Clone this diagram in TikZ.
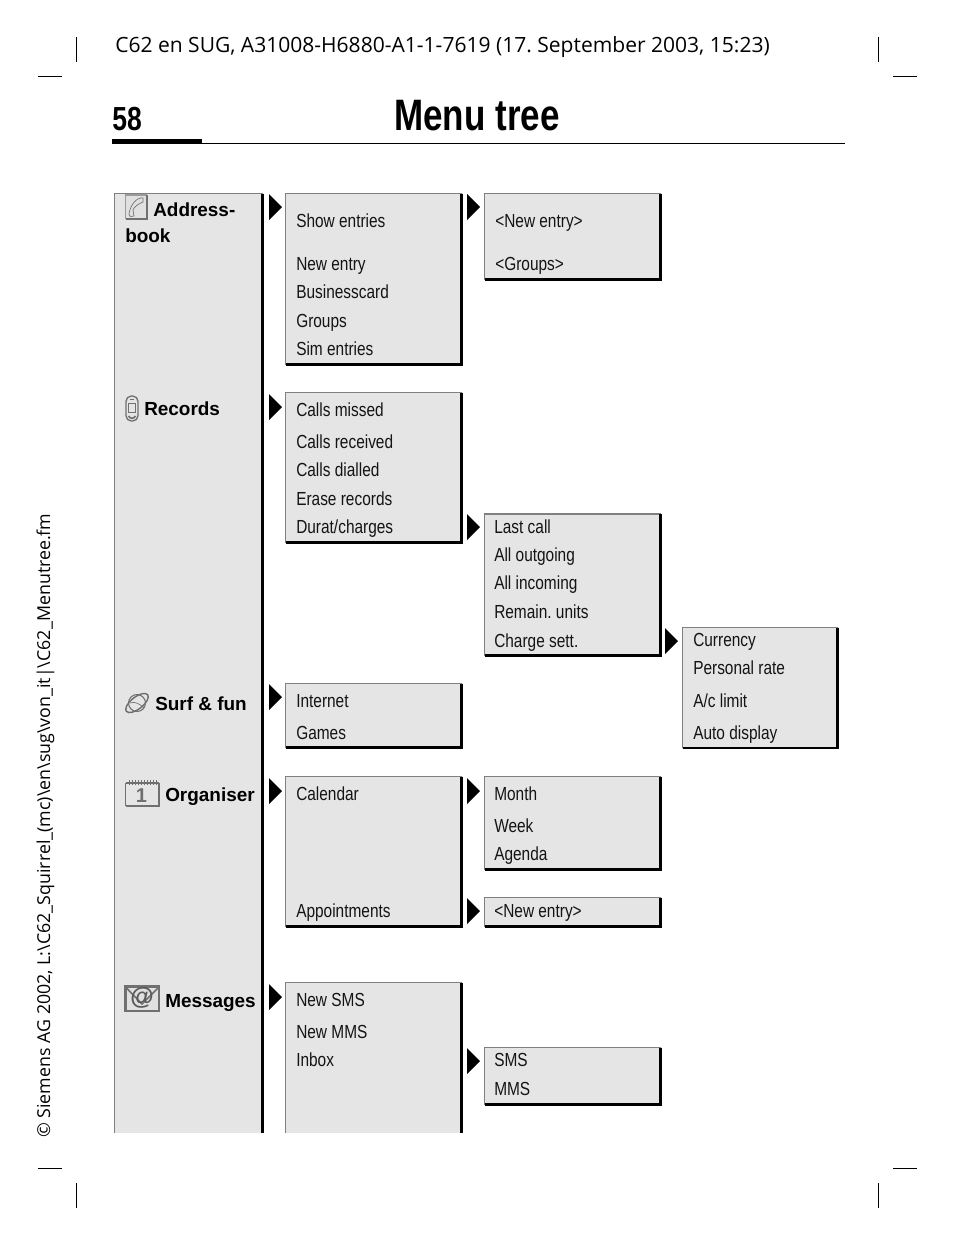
\documentclass[tikz,border=0pt]{standalone}
\usepackage{fontspec}
\setmainfont{Liberation Sans}
\newfontfamily\narrowf[FakeStretch=0.815]{Liberation Sans}
\newfontfamily\titlef[FakeStretch=0.795]{Liberation Sans Bold}
\newfontfamily\headf{Open Sans}
\definecolor{boxgray}{HTML}{E5E5E5}
\definecolor{edgegray}{HTML}{808080}
\definecolor{icongray}{HTML}{707070}
\tikzset{
  item/.style={anchor=base west,inner sep=0pt,font=\narrowf\fontsize{14.2pt}{16pt}\selectfont,text=black!92},
  cat/.style={anchor=base west,inner sep=0pt,font=\bfseries\fontsize{14.2pt}{16pt}\selectfont},
  mark line/.style={line width=0.75pt,black},
  ico/.style={draw=icongray,line width=0.9pt},
  tri/.style={fill=black},
}
\newcommand{\menubox}[4]{% x1 y1 x2 y2
  \fill[boxgray] (#1,#2) rectangle (#3,#4);
  \draw[edgegray,line width=.9pt] (#1,#4) -- (#1,#2) -- (#3,#2);
  \draw[black,line width=2.1pt] (#3,#2) -- (#3,#4) -- (#1,#4);
}
\newcommand{\openbox}[4]{% open at the bottom
  \fill[boxgray] (#1,#2) rectangle (#3,#4);
  \draw[edgegray,line width=.9pt] (#1,#4) -- (#1,#2) -- (#3,#2);
  \draw[black,line width=2.1pt] (#3,#2) -- (#3,#4);
}
\newcommand{\tripoint}[2]{\fill[tri] (#1,#2-13) -- (#1+13,#2) -- (#1,#2+13) -- cycle;}
\begin{document}
\frenchspacing
\begin{tikzpicture}[x=0.75pt,y=-0.75pt]
\useasboundingbox (0,0) rectangle (954,1246);
% crop marks
\foreach \a/\b/\c/\d in {76/37/76/62,878/37/878/62,38/76/62/76,893/76/917/76,38/1168/62/1168,893/1168/917/1168,76/1183/76/1208,878/1183/878/1208}
  \draw[mark line] (\a,\b) -- (\c,\d);
% header
\node (head) [anchor=base west,inner sep=0pt,font=\headf\fontsize{15.77pt}{18pt}\selectfont] at (115,52) {C62 en SUG, A31008-H6880-A1-1-7619 (17. September 2003, 15:23)};
\node (pageno) [anchor=base west,inner sep=0pt,font=\titlef\fontsize{25pt}{26pt}\selectfont] at (112,130) {58};
\node (title) [anchor=base,inner sep=0pt,font=\titlef\fontsize{33pt}{34pt}\selectfont] at (477,130) {Menu tree};
\fill[black] (112,139) rectangle (202,144);
\draw[black,line width=.8pt] (112,143.5) -- (845,143.5);
% side text
\node (side) [anchor=base west,rotate=90,inner sep=0pt,font=\headf\fontsize{13.35pt}{15pt}\selectfont] at (50,1138) {© Siemens AG 2002, L:\textbackslash C62\_Squirrel\_(mc)\textbackslash en\textbackslash sug\textbackslash von\_it\textbar\textbackslash C62\_Menutree.fm};
% boxes
\openbox{114.5}{193.5}{262.7}{1133}
\menubox{285.5}{193.5}{461.7}{364.5}
\menubox{484.5}{193.5}{660.5}{279.5}
\menubox{285.5}{392.5}{461.7}{542.5}
\menubox{484.5}{514}{660.5}{655.5}
\menubox{682.5}{627.5}{837.5}{748}
\menubox{285.5}{683.5}{461.7}{747.5}
\menubox{285.5}{776.5}{461.7}{926.5}
\menubox{484.5}{776.5}{660.5}{869.5}
\menubox{484.5}{897.5}{660.5}{926.5}
\openbox{285.5}{982.5}{461.7}{1133}
\menubox{484.5}{1047.5}{660.5}{1104.5}
% triangles
\tripoint{269}{207}
\tripoint{467}{207}
\tripoint{269}{407}
\tripoint{467}{527}
\tripoint{665}{641}
\tripoint{269}{697}
\tripoint{269}{791}
\tripoint{467}{791}
\tripoint{467}{911}
\tripoint{269}{997}
\tripoint{467}{1061}
% icons: address book
\fill[black!12] (125.5,195) rectangle (147,219);
\draw[icongray!70,line width=.8pt] (125.5,219) -- (125.5,195) -- (147,195);
\draw[icongray,line width=1.3pt] (147,195) -- (147,219) -- (125.5,219);
\draw[icongray,line width=.5pt] (143,198) .. controls (136,197) and (130,206) .. (129,214) .. controls (129,217) and (132,217) .. (134,216) -- (133,210) .. controls (134,207) and (138,204) .. (143,202) -- cycle;
% records phone
\draw[icongray,line width=1pt,rounded corners=4pt] (126,396) rectangle (138,421);
\draw[icongray,line width=.6pt] (128.5,403) rectangle (135.5,412);
\draw[icongray,line width=.7pt] (130,399) -- (134,399);
\draw[icongray,line width=1.2pt] (128.5,416) .. controls (130,419) and (134,419) .. (135.5,416);
% surf globe
\draw[icongray,line width=.8pt,fill=black!10] (137,703) circle (8.5);
\draw[icongray,line width=1.1pt,rotate around={38:(137,703)}] (137,703) ellipse (13.5 and 6);
\draw[icongray,line width=.5pt] (130,703) .. controls (135,701) and (140,704) .. (144,708);
% organiser calendar
\draw[icongray,line width=1pt] (125.5,783) -- (125.5,806) (125.5,783) -- (159,783);
\draw[icongray,line width=1.5pt] (159,783) -- (159,805.5) -- (125.5,805.5);
\foreach \k in {129,132,...,156} \draw[icongray,line width=.6pt] (\k,780) -- (\k,785);
\node (calnum) [anchor=base,inner sep=0pt,font=\bfseries\fontsize{15pt}{16pt}\selectfont,text=icongray] at (141.5,802) {1};
% messages envelope
\draw[icongray,line width=1.7pt,fill=black!12] (125.5,986.5) rectangle (159,1011);
\draw[icongray,line width=1.2pt] (125.5,987) -- (142,1004) -- (159,987);
\node (atsign) [inner sep=0pt,font=\bfseries\fontsize{18pt}{19pt}\selectfont,text=black!65] at (142,998) {@};
% category labels
\node (c1a) [cat] at (153,216) {Address-};
\node (c1b) [cat] at (125,242) {book};
\node (c2) [cat] at (144,415) {Records};
\node (c3) [cat] at (155,710) {Surf \& fun};
\node (c4) [cat] at (165,801) {Organiser};
\node (c5) [cat] at (165,1007) {Messages};
% items
\node (a1) [item] at (296,227) {Show entries};
\node (a2) [item] at (296,270) {New entry};
\node (a3) [item] at (296,298) {Businesscard};
\node (a4) [item] at (296,327) {Groups};
\node (a5) [item] at (296,355) {Sim entries};
\node (b1) [item] at (495,227) {<New entry>};
\node (b2) [item] at (495,270) {<Groups>};
\node (r1) [item] at (296,416) {Calls missed};
\node (r2) [item] at (296,448) {Calls received};
\node (r3) [item] at (296,476) {Calls dialled};
\node (r4) [item] at (296,505) {Erase records};
\node (r5) [item] at (296,533) {Durat/charges};
\node (d1) [item] at (494,533) {Last call};
\node (d2) [item] at (494,561) {All outgoing};
\node (d3) [item] at (494,589) {All incoming};
\node (d4) [item] at (494,618) {Remain. units};
\node (d5) [item] at (494,647) {Charge sett.};
\node (e1) [item] at (693,646) {Currency};
\node (e2) [item] at (693,674) {Personal rate};
\node (e3) [item] at (693,707) {A/c limit};
\node (e4) [item] at (693,739) {Auto display};
\node (s1) [item] at (296,707) {Internet};
\node (s2) [item] at (296,739) {Games};
\node (o1) [item] at (296,800) {Calendar};
\node (o2) [item] at (296,917) {Appointments};
\node (h1) [item] at (494,800) {Month};
\node (h2) [item] at (494,832) {Week};
\node (h3) [item] at (494,860) {Agenda};
\node (i1) [item] at (494,917) {<New entry>};
\node (m1) [item] at (296,1006) {New SMS};
\node (m2) [item] at (296,1038) {New MMS};
\node (m3) [item] at (296,1066) {Inbox};
\node (k1) [item] at (494,1066) {SMS};
\node (k2) [item] at (494,1095) {MMS};
\end{tikzpicture}
\end{document}
